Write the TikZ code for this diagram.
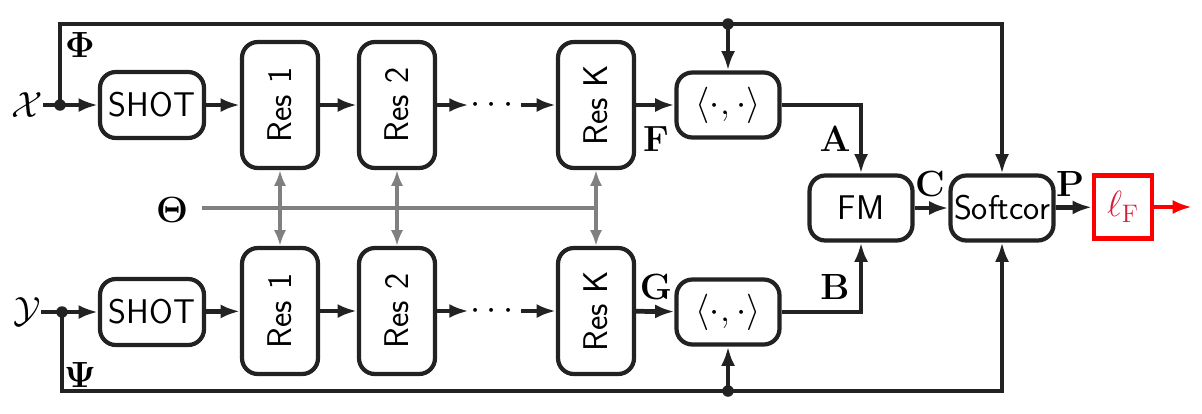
\documentclass[tikz,border=0pt]{standalone}
\usepackage{amsmath}
\usepackage{graphicx}
\usetikzlibrary{arrows.meta,calc}
\definecolor{ink}{HTML}{222222}
\definecolor{grayline}{HTML}{808080}
\definecolor{lfred}{HTML}{D4203C}
\begin{document}
\begin{tikzpicture}[x=0.02cm,y=-0.02cm,
  font=\fontsize{19.5}{22}\selectfont,
  box/.style={draw=ink, line width=2.4pt, rounded corners=9pt, fill=white,
    font=\sffamily\fontsize{19.5}{22}\selectfont, inner sep=0pt},
  wide/.style={box, minimum width=20.6mm, minimum height=13mm},
  resbox/.style={box, minimum width=15.2mm, minimum height=25.2mm},
  conn/.style={draw=ink, line width=2.7pt, -{Latex[length=11pt,width=8pt]}},
  bus/.style={draw=ink, line width=1.9pt},
  gconn/.style={draw=grayline, line width=2.4pt},
  gtip/.style={{Latex[length=9pt,width=7pt]}-{Latex[length=9pt,width=7pt]}},
  jdot/.style={circle, fill=ink, inner sep=0pt, minimum size=2.3mm},
  lbl/.style={inner sep=0pt}
]
\useasboundingbox (0,0) rectangle (1202,413);

% ---- top row
\node[lbl] (xl) at (27,105) {$\mathcal{X}$};
\coordinate (xd) at (60,105);
\node[wide, minimum width=20.8mm, minimum height=13.2mm] (shota) at (152,105) {SHOT};
\node[resbox] (r1a) at (280,105) {\rotatebox{90}{Res 1}};
\node[resbox] (r2a) at (397,105) {\rotatebox{90}{Res 2}};
\node[inner sep=1pt] (dotsa) at (495,105) {$\cdots$};
\node[resbox] (rka) at (596,105) {\rotatebox{90}{Res K}};
\node[wide] (ipa) at (728,105) {$\langle\cdot,\cdot\rangle$};

% ---- bottom row
\node[lbl] (yl) at (27,312) {$\mathcal{Y}$};
\coordinate (yd) at (62,312);
\node[wide, minimum width=20.8mm, minimum height=13.2mm] (shotb) at (152,312) {SHOT};
\node[resbox] (r1b) at (280,311) {\rotatebox{90}{Res 1}};
\node[resbox] (r2b) at (397,311) {\rotatebox{90}{Res 2}};
\node[inner sep=1pt] (dotsb) at (495,311) {$\cdots$};
\node[resbox] (rkb) at (596,311) {\rotatebox{90}{Res K}};
\node[wide] (ipb) at (728,312) {$\langle\cdot,\cdot\rangle$};

% ---- right part
\node[wide] (fm) at (861,208) {FM};
\node[wide] (soft) at (1002,208) {Softcor};
\node[draw=red, line width=2.4pt, minimum width=11.6mm, minimum height=12.6mm, inner sep=0pt]
  (lf) at (1123,207) {\color{lfred}$\ell_{\mathrm{F}}$};
\coordinate (out) at (1192,207);

% ---- labels
\node[lbl] (phi) at (80,45) {$\mathbf{\Phi}$};
\node[lbl] (psi) at (80,375) {$\mathbf{\Psi}$};
\node[lbl] (lF) at (656,139) {$\mathbf{F}$};
\node[lbl] (lG) at (656,287) {$\mathbf{G}$};
\node[lbl] (lA) at (835,139) {$\mathbf{A}$};
\node[lbl] (lB) at (835,287) {$\mathbf{B}$};
\node[lbl] (lC) at (930,184) {$\mathbf{C}$};
\node[lbl] (lP) at (1070,184) {$\mathbf{P}$};
\node[lbl] (th) at (172,210) {$\mathbf{\Theta}$};

% ---- buses
\coordinate (tb) at (728,24);
\coordinate (tr) at (1002,24);
\coordinate (bb) at (728,391);
\coordinate (br) at (1002,391);
\draw[bus, -{Latex[length=11pt,width=8pt]}] (xd) |- (tr) -- (soft.north);
\draw[bus, -{Latex[length=11pt,width=8pt]}] (yd) |- (br) -- (soft.south);
\draw[conn] (tb) -- (ipa.north);
\draw[conn] (bb) -- (ipb.south);

% ---- chains
\draw[draw=ink, line width=2.7pt] (xl.east) -- (xd);
\draw[draw=ink, line width=2.7pt] (yl.east) -- (yd);
\draw[conn] (xd) -- (shota.west);
\draw[conn] (shota) -- (r1a);
\draw[conn] (r1a) -- (r2a);
\draw[conn] (r2a) -- (dotsa);
\draw[conn] (dotsa) -- (rka);
\draw[conn] (rka) -- (ipa);
\draw[conn] (yd) -- (shotb.west);
\draw[conn] (shotb) -- (r1b);
\draw[conn] (r1b) -- (r2b);
\draw[conn] (r2b) -- (dotsb);
\draw[conn] (dotsb) -- (rkb);
\draw[conn] (rkb) -- (ipb);
\draw[conn] (ipa.east) -| (fm.north);
\draw[conn] (ipb.east) -| (fm.south);
\draw[conn] (fm) -- (soft);
\draw[conn] (soft) -- (lf);
\draw[draw=red, line width=2.7pt, -{Latex[length=11pt,width=8pt]}] (lf) -- (out);

% ---- parameter sharing
\coordinate (ts) at (202,208);
\draw[gconn] (ts) -- (rka.south |- ts);
\draw[gconn, gtip] (r1a.south) -- (r1b.north);
\draw[gconn, gtip] (r2a.south) -- (r2b.north);
\draw[gconn, gtip] (rka.south) -- (rkb.north);

% ---- junction dots
\node[jdot] at (xd) {};
\node[jdot] at (yd) {};
\node[jdot] at (tb) {};
\node[jdot] at (bb) {};
\end{tikzpicture}
\end{document}
